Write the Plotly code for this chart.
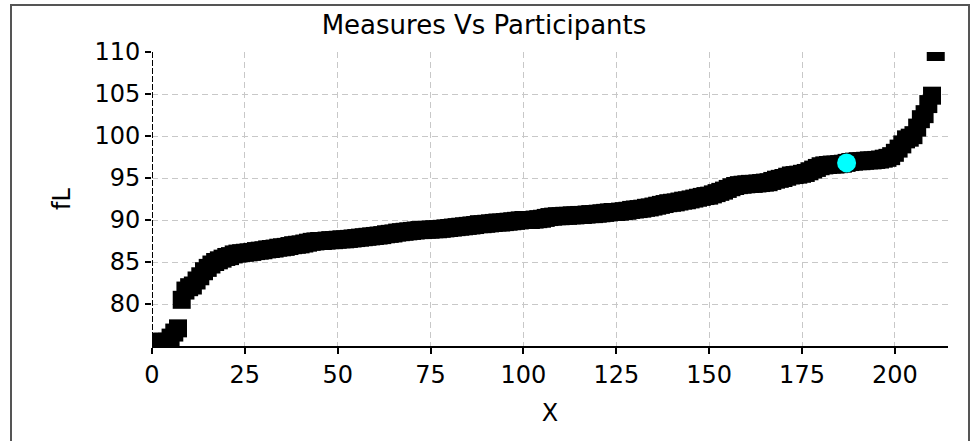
import plotly.graph_objects as go

measures = [
    75.4, 75.5, 75.5, 75.5, 75.5, 76.0, 76.6, 77.1,
    80.5, 81.6, 82.0, 82.2, 82.8, 83.3, 83.9, 84.3, 84.7, 85.0,
    85.2, 85.4, 85.6, 85.7, 85.9, 86.0, 86.05, 86.1, 86.15, 86.2,
    86.3, 86.35, 86.4, 86.5, 86.55, 86.6, 86.7, 86.75, 86.8, 86.9,
    87.0, 87.05, 87.1, 87.2, 87.3, 87.4, 87.45, 87.5, 87.5, 87.55,
    87.6, 87.6, 87.65, 87.7, 87.7, 87.75, 87.8, 87.85, 87.9, 87.95,
    88.0, 88.05, 88.1, 88.15, 88.2, 88.3, 88.35, 88.4, 88.5, 88.55,
    88.6, 88.65, 88.7, 88.75, 88.8, 88.8, 88.85, 88.85, 88.9, 88.9,
    88.95, 89.0, 89.05, 89.1, 89.15, 89.2, 89.25, 89.3, 89.35, 89.4,
    89.5, 89.5, 89.55, 89.6, 89.65, 89.7, 89.7, 89.75, 89.8, 89.85,
    89.9, 89.95, 90.0, 90.0, 90.0, 90.05, 90.1, 90.15, 90.25, 90.35,
    90.4, 90.45, 90.45, 90.5, 90.5, 90.55, 90.55, 90.6, 90.6, 90.65,
    90.7, 90.7, 90.75, 90.8, 90.85, 90.9, 90.95, 90.95, 91.0, 91.05,
    91.1, 91.2, 91.25, 91.3, 91.35, 91.45, 91.5, 91.6, 91.7, 91.8,
    91.9, 92.0, 92.05, 92.1, 92.2, 92.3, 92.35, 92.45, 92.55, 92.65,
    92.75, 92.85, 92.9, 93.05, 93.2, 93.35, 93.5, 93.7, 93.9, 94.05,
    94.15, 94.2, 94.25, 94.3, 94.3, 94.35, 94.4, 94.45, 94.5, 94.65,
    94.8, 94.9, 95.0, 95.15, 95.3, 95.35, 95.4, 95.5, 95.6, 95.8,
    96.0, 96.2, 96.4, 96.5, 96.55, 96.6, 96.6, 96.65, 96.7, 96.8,
    96.9, 96.95, 97.0, 97.0, 97.05, 97.1, 97.1, 97.15, 97.2, 97.3,
    97.4, 97.6, 98.0, 98.5, 99.0, 99.6, 99.8, 100.1, 101.0, 102.0,
    102.6, 103.8, 104.8, 110.0,
]
participants = list(range(len(measures)))

# Highlighted participant
highlight_x = [187]
highlight_y = [96.8]

x_ticks = [0, 25, 50, 75, 100, 125, 150, 175, 200]
y_ticks = [80, 85, 90, 95, 100, 105, 110]

title_text = "Measures Vs Participants"
x_title = "X"
y_title = "fL"

FONT = "DejaVu Sans"

fig = go.Figure()
fig.add_trace(go.Scatter(
    x=participants, y=measures, mode="markers",
    marker=dict(symbol="square", size=18, color="black", line=dict(width=0)),
    showlegend=False, hoverinfo="x+y",
))
fig.add_trace(go.Scatter(
    x=highlight_x, y=highlight_y, mode="markers",
    marker=dict(symbol="circle", size=19, color="#00ffff", line=dict(width=0)),
    showlegend=False,
))

W, H = 976, 441
fig.update_layout(
    width=W, height=H,
    margin=dict(l=152, r=28, t=52, b=95, pad=0),
    paper_bgcolor="white", plot_bgcolor="white",
    font=dict(family=FONT, color="black", size=24),
    title=dict(text=title_text, x=484 / W, xref="container", xanchor="center",
               y=1 - 25 / H, yref="container", yanchor="middle",
               font=dict(family=FONT, size=26, color="black")),
    xaxis=dict(
        range=[0, 214.3], tickvals=x_ticks, ticktext=[str(v) for v in x_ticks],
        showline=True, linecolor="black", linewidth=2,
        ticks="outside", ticklen=6, tickwidth=2, tickcolor="black",
        showgrid=True, gridcolor="#c8c8c8", gridwidth=1, griddash="6px,4px",
        zeroline=False, tickfont=dict(size=24),
        title=dict(text=x_title, font=dict(size=24), standoff=16),
    ),
    yaxis=dict(
        range=[75, 110], tickvals=y_ticks, ticktext=[str(v) for v in y_ticks],
        showline=False,
        ticks="outside", ticklen=6, tickwidth=2, tickcolor="black",
        showgrid=True, gridcolor="#c8c8c8", gridwidth=1, griddash="6px,4px",
        zeroline=False, tickfont=dict(size=24),
        title=dict(text=y_title, font=dict(size=24), standoff=16),
    ),
    shapes=[
        dict(type="line", xref="x", yref="y", x0=0, x1=0, y0=75, y1=110,
             line=dict(color="black", width=2, dash="6px,2px"), layer="above"),
        dict(type="rect", xref="paper", yref="paper",
             x0=(11 - 152) / 796, x1=(969 - 152) / 796,
             y0=(346 - 446) / 294, y1=(346 - 5) / 294,
             line=dict(color="#555555", width=2), fillcolor="rgba(0,0,0,0)",
             layer="above"),
    ],
)

fig.write_html(
    "out.html",
    config={"displayModeBar": False},
    post_script="document.body.style.margin='0';document.body.style.overflow='hidden';",
)
